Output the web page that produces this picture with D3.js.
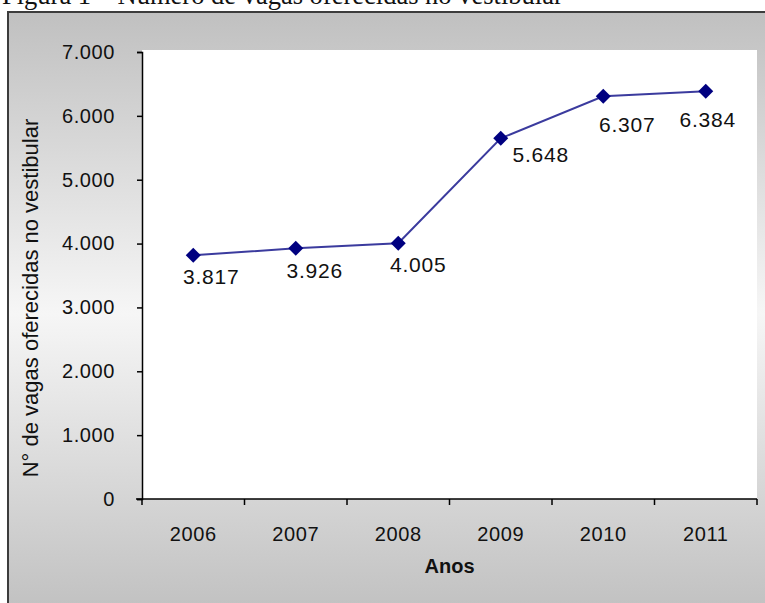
<!DOCTYPE html>
<html>
<head>
<meta charset="utf-8">
<script src="https://cdn.jsdelivr.net/npm/d3@7/dist/d3.min.js"></script>
<style>
  html, body { margin: 0; padding: 0; background: #fff; }
  svg { display: block; }
  text { font-family: "Liberation Sans", Arial, sans-serif; fill: #111; }
</style>
</head>
<body>
<svg id="chart" width="765" height="603"></svg>
<script>
// Vacancies offered in the entrance exam, per year
const years = ["2006", "2007", "2008", "2009", "2010", "2011"];
const vagas = [3817, 3926, 4005, 5648, 6307, 6384];
const yTicks = [0, 1000, 2000, 3000, 4000, 5000, 6000, 7000];

// label placement relative to each marker (dx, dy)
const labelNudge = [[18, 22], [19, 23], [20, 22], [40, 17], [24, 29], [2, 29]];

const svg = d3.select("#chart");
const W = 765, H = 603;
const fmt = v => d3.format(",")(v).replace(/,/g, ".");

// frame background gradient
const defs = svg.append("defs");
const g1 = defs.append("linearGradient").attr("id", "bg").attr("x1", 0).attr("x2", 0).attr("y1", 0).attr("y2", 1);
g1.append("stop").attr("offset", "0%").attr("stop-color", "#c0c0c0");
g1.append("stop").attr("offset", "50%").attr("stop-color", "#f6f6f6");
g1.append("stop").attr("offset", "100%").attr("stop-color", "#c0c0c0");

// caption above the frame (mostly hidden behind the frame edge)
svg.append("text")
  .attr("x", 2).attr("y", 4)
  .style("font-family", "'Liberation Serif', 'Times New Roman', serif")
  .style("font-size", "26.5px")
  .text("Figura 1 – Número de vagas oferecidas no vestibular");

svg.append("rect")
  .attr("x", 8).attr("y", 12).attr("width", W).attr("height", H)
  .attr("fill", "url(#bg)")
  .attr("stroke", "#3c3c3c").attr("stroke-width", 2);

const plot = { left: 142, right: 757, top: 52, bottom: 499 };

svg.append("rect")
  .attr("x", plot.left).attr("y", plot.top - 2)
  .attr("width", plot.right - plot.left).attr("height", plot.bottom - plot.top + 2)
  .attr("fill", "#ffffff");

const x = d3.scaleBand().domain(years).range([plot.left, plot.right]);
const y = d3.scaleLinear().domain([0, 7000]).range([plot.bottom, plot.top]);

// y axis
const yAxis = svg.append("g")
  .attr("transform", `translate(${plot.left},0)`)
  .call(d3.axisLeft(y).tickValues(yTicks).tickSize(5).tickPadding(22).tickFormat(fmt));
yAxis.select(".domain").attr("stroke", "#000").attr("stroke-width", 1.5);
yAxis.selectAll(".tick line").attr("stroke", "#000").attr("stroke-width", 1.5);
yAxis.selectAll(".tick text")
  .style("font-size", "20px").style("letter-spacing", "0.6px")
  .attr("fill", "#111");

// x axis: ticks at category boundaries
const xAxis = svg.append("g").attr("transform", `translate(0,${plot.bottom})`);
xAxis.append("line")
  .attr("x1", plot.left - 6).attr("x2", plot.right)
  .attr("stroke", "#000").attr("stroke-width", 1.5);
const bounds = years.map(d => x(d)).concat([x(years[years.length - 1]) + x.bandwidth()]);
xAxis.selectAll("line.tk").data(bounds).join("line").attr("class", "tk")
  .attr("x1", d => d).attr("x2", d => d).attr("y1", 0).attr("y2", 6)
  .attr("stroke", "#000").attr("stroke-width", 1.5);
xAxis.selectAll("text.yr").data(years).join("text").attr("class", "yr")
  .attr("x", d => x(d) + x.bandwidth() / 2).attr("y", 42)
  .attr("text-anchor", "middle")
  .style("font-size", "20px").style("letter-spacing", "0.6px")
  .text(d => d);

// axis titles
svg.append("text")
  .attr("x", (plot.left + plot.right) / 2).attr("y", 573)
  .attr("text-anchor", "middle")
  .style("font-size", "20px").style("font-weight", "bold")
  .text("Anos");

svg.append("text")
  .attr("transform", `translate(38,298) rotate(-90)`)
  .attr("text-anchor", "middle")
  .style("font-size", "22px")
  .text("N° de vagas oferecidas no vestibular");

// series line
const pts = years.map((d, i) => [x(d) + x.bandwidth() / 2, y(vagas[i])]);
svg.append("path")
  .attr("d", d3.line()(pts))
  .attr("fill", "none")
  .attr("stroke", "#3b3b9e")
  .attr("stroke-width", 2);

// diamond markers
svg.selectAll("path.mk").data(pts).join("path").attr("class", "mk")
  .attr("transform", d => `translate(${d[0]},${d[1]})`)
  .attr("d", "M0,-7.5L7.5,0L0,7.5L-7.5,0Z")
  .attr("fill", "#000080");

// value labels
svg.selectAll("text.val").data(vagas).join("text").attr("class", "val")
  .attr("x", (d, i) => pts[i][0] + labelNudge[i][0])
  .attr("y", (d, i) => pts[i][1] + labelNudge[i][1] + 7)
  .attr("text-anchor", "middle")
  .style("font-size", "21px").style("letter-spacing", "0.8px")
  .text(d => fmt(d));
</script>
</body>
</html>
